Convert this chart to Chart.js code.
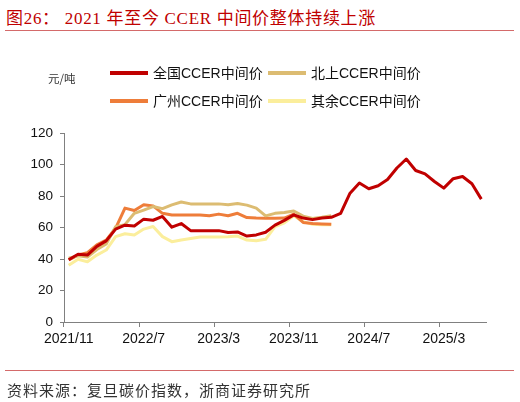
<!DOCTYPE html>
<html>
<head>
<meta charset="utf-8">
<script src="https://cdn.jsdelivr.net/npm/chart.js@4"></script>
<style>
  html, body { margin: 0; padding: 0; background: #fff; }
  #page { position: relative; width: 520px; height: 402px; overflow: hidden; }
  #wrap { position: absolute; left: 0; top: 0; width: 520px; height: 402px; }
  .title {
    position: absolute; left: 6px; top: 4px; white-space: nowrap; letter-spacing: 0.7px;
    font: 17px "Liberation Serif", "Noto Sans CJK SC", serif; color: #c00000;
  }
  .rule { position: absolute; left: 5px; width: 509px; height: 0; border-top: 1.5px solid #d46a6a; }
  .unit {
    position: absolute; left: 48px; top: 70px;
    font: 11.5px "Noto Sans CJK SC", sans-serif; color: #333;
  }
  .leg { position: absolute; font: 14px "Liberation Sans", "Noto Sans CJK SC", sans-serif; color: #111; white-space: nowrap; }
  .leg i { display: inline-block; width: 38px; height: 4px; vertical-align: middle; margin-right: 5px; position: relative; top: -1px; }
  .source {
    position: absolute; left: 7px; top: 379px; white-space: nowrap; letter-spacing: 1px;
    font: 15px "Noto Sans CJK SC", sans-serif; color: #333;
  }
</style>
</head>
<body>
<div id="page">
  <div class="title">图26： 2021 年至今 CCER 中间价整体持续上涨</div>
  <div class="rule" style="top:30px"></div>
  <div id="wrap"><canvas id="chart"></canvas></div>
  <div class="unit">元/吨</div>
  <div id="legend"></div>
  <div class="rule" style="top:370px"></div>
  <div class="source">资料来源：复旦碳价指数，浙商证券研究所</div>
</div>
<script>
// monthly labels, 2021/11 .. 2025/7
const months = [
  "2021/11", "2021/12",
  "2022/1", "2022/2", "2022/3", "2022/4", "2022/5", "2022/6",
  "2022/7", "2022/8", "2022/9", "2022/10", "2022/11", "2022/12",
  "2023/1", "2023/2", "2023/3", "2023/4", "2023/5", "2023/6",
  "2023/7", "2023/8", "2023/9", "2023/10", "2023/11", "2023/12",
  "2024/1", "2024/2", "2024/3", "2024/4", "2024/5", "2024/6",
  "2024/7", "2024/8", "2024/9", "2024/10", "2024/11", "2024/12",
  "2025/1", "2025/2", "2025/3", "2025/4", "2025/5", "2025/6", "2025/7"
];

const seriesNames = ["全国CCER中间价", "北上CCER中间价", "广州CCER中间价", "其余CCER中间价"];

// 全国
const national = [
  39.5, 43, 42.5, 48, 51.5, 59, 61.5, 61, 65.3, 64.6, 67, 60.2, 62.5, 58, 58,
  58, 58, 56.8, 57.2, 54.6, 55.3, 57, 61.5, 64.5, 68, 66, 65, 66, 66.5, 69,
  81.8, 88.2, 84.6, 86.5, 90.5, 97.8, 103.5, 96.2, 94, 89.2, 85, 91, 92.4, 87.8, 78
];
// 北上
const beishang = [
  40.5, 42, 41.2, 46, 49.5, 60.5, 61.8, 69, 71, 73.3, 72, 74.4, 76.2, 75, 75,
  75, 75, 74.5, 75.2, 74.2, 72.3, 67.4, 69, 69.5, 70.5, 67.2, 65.8, 66.5, 67.5
];
// 广州
const guangzhou = [
  39.5, 42.5, 44, 49, 52, 59.5, 72.3, 70.8, 74.5, 73.7, 69, 68, 68, 68, 68,
  67.5, 68.5, 67.5, 69, 66.3, 66, 65.9, 65.9, 66, 68.5, 63.2, 62.5, 62.3, 62
];
// 其余
const others = [
  36, 39.8, 38.2, 42.5, 45.7, 54.2, 56, 55.3, 59, 60.6, 54.2, 51, 52, 53, 54,
  54, 54, 54.2, 54.6, 52, 51.6, 52.5, 60.6, 63, 67.5, 63.7, 62, 61.8, 61.8
];

const colors = ["#c00000", "#dcbc72", "#ee7d3a", "#fbee9c"];
const tickEvery = 8;
const axisColor = "#808080";

/* legend (2 x 2) */
const legendPos = [[110, 62], [268, 62], [110, 90], [268, 90]];
const legendEl = document.getElementById("legend");
seriesNames.forEach((name, k) => {
  const d = document.createElement("div");
  d.className = "leg";
  d.style.left = legendPos[k][0] + "px";
  d.style.top = legendPos[k][1] + "px";
  d.innerHTML = `<i style="background:${colors[k]}"></i>${name}`;
  legendEl.appendChild(d);
});

const lineSet = (data, k) => ({
  label: seriesNames[k],
  data,
  borderColor: colors[k],
  backgroundColor: colors[k],
  borderWidth: 3,
  pointRadius: 0,
  tension: 0,
  fill: false,
  borderJoinStyle: "round"
});

new Chart(document.getElementById("chart"), {
  type: "line",
  data: {
    labels: months,
    datasets: [
      lineSet(national, 0),
      lineSet(beishang, 1),
      lineSet(guangzhou, 2),
      lineSet(others, 3)
    ]
  },
  options: {
    responsive: true,
    maintainAspectRatio: false,
    animation: false,
    layout: { padding: { top: 133, right: 34, bottom: 50, left: 0 } },
    plugins: { legend: { display: false }, tooltip: { enabled: false } },
    scales: {
      x: {
        offset: true,
        afterFit: (s) => { s.height = 30; },
        border: { display: true, color: axisColor, width: 1 },
        grid: {
          offset: true,
          drawOnChartArea: false,
          drawTicks: true,
          tickLength: 5,
          color: (ctx) => (ctx.index % tickEvery === 0 ? axisColor : "rgba(0,0,0,0)")
        },
        ticks: {
          autoSkip: false,
          maxRotation: 0,
          padding: 4,
          color: "#111",
          font: { family: "Liberation Sans", size: 14 },
          callback: (v, i) => (i % tickEvery === 0 ? months[i] : "")
        }
      },
      y: {
        min: 0,
        max: 120,
        afterFit: (s) => { s.width = 64; },
        border: { display: true, color: axisColor, width: 1 },
        grid: { drawOnChartArea: false, drawTicks: true, tickLength: 4, color: axisColor },
        ticks: {
          stepSize: 20,
          padding: 7,
          color: "#111",
          font: { family: "Liberation Sans", size: 13.5 }
        }
      }
    }
  }
});
</script>
</body>
</html>
